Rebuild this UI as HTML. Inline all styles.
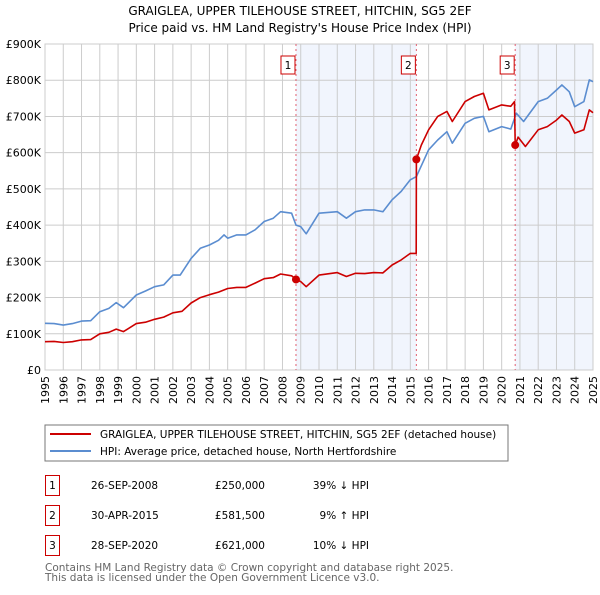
<!DOCTYPE html>
<html><head><meta charset="utf-8"><style>
body{margin:0;background:#fff;font-family:"Liberation Sans","DejaVu Sans",sans-serif;}
svg text{font-family:"DejaVu Sans","Liberation Sans",sans-serif;}
</style></head><body>
<svg id="c" width="600" height="590" xmlns="http://www.w3.org/2000/svg">
<text x="300" y="15" text-anchor="middle" font-size="12">GRAIGLEA, UPPER TILEHOUSE STREET, HITCHIN, SG5 2EF</text>
<text x="300" y="32" text-anchor="middle" font-size="12">Price paid vs. HM Land Registry's House Price Index (HPI)</text>
<g id="plot"></g>
<rect x="45" y="425" width="463" height="36" fill="#fff" stroke="#777"/>
<line x1="50" y1="434" x2="91" y2="434" stroke="#cc0000" stroke-width="2"/>
<text x="100" y="438" font-size="10.5">GRAIGLEA, UPPER TILEHOUSE STREET, HITCHIN, SG5 2EF (detached house)</text>
<line x1="50" y1="451" x2="91" y2="451" stroke="#5b8dd0" stroke-width="2"/>
<text x="100" y="455" font-size="10.5">HPI: Average price, detached house, North Hertfordshire</text>
<g font-size="10.5">
<rect x="45.5" y="475.5" width="14" height="20" fill="#fff" stroke="#cc0000"/><text x="52.5" y="489" text-anchor="middle">1</text>
<text x="91" y="489">26-SEP-2008</text><text x="265" y="489" text-anchor="end">£250,000</text><text x="369" y="489" text-anchor="end">39% ↓ HPI</text>
<rect x="45.5" y="505.5" width="14" height="20" fill="#fff" stroke="#cc0000"/><text x="52.5" y="519" text-anchor="middle">2</text>
<text x="91" y="519">30-APR-2015</text><text x="265" y="519" text-anchor="end">£581,500</text><text x="369" y="519" text-anchor="end">9% ↑ HPI</text>
<rect x="45.5" y="535.5" width="14" height="20" fill="#fff" stroke="#cc0000"/><text x="52.5" y="549" text-anchor="middle">3</text>
<text x="91" y="549">28-SEP-2020</text><text x="265" y="549" text-anchor="end">£621,000</text><text x="369" y="549" text-anchor="end">10% ↓ HPI</text>
</g>
<text x="45" y="571" font-size="10.5" fill="#666">Contains HM Land Registry data © Crown copyright and database right 2025.</text>
<text x="45" y="581" font-size="10.5" fill="#666">This data is licensed under the Open Government Licence v3.0.</text>
</svg>
<script>
const yearTicks=[1995,1996,1997,1998,1999,2000,2001,2002,2003,2004,2005,2006,2007,2008,2009,2010,2011,2012,2013,2014,2015,2016,2017,2018,2019,2020,2021,2022,2023,2024,2025];
const priceTicks=[0,100,200,300,400,500,600,700,800,900];
const priceLabels=["£0","£100K","£200K","£300K","£400K","£500K","£600K","£700K","£800K","£900K"];
const hpiYears=[1995,1995.5,1996,1996.5,1997,1997.5,1998,1998.5,1998.9,1999.3,2000,2000.5,2001,2001.5,2002,2002.4,2003,2003.5,2004,2004.5,2004.8,2005,2005.5,2006,2006.5,2007,2007.5,2007.9,2008.5,2008.74,2009,2009.3,2010,2011,2011.5,2012,2012.5,2013,2013.5,2014,2014.5,2015,2015.33,2016,2016.5,2017,2017.3,2018,2018.5,2019,2019.3,2020,2020.5,2020.8,2021.2,2022,2022.5,2023,2023.3,2023.7,2024,2024.5,2024.8,2025];
const hpiValues=[129,128,124,128,135,136,161,170,186,172,207,218,230,235,262,262,308,336,345,358,373,364,373,373,387,410,419,437,433,400,396,376,433,437,419,437,442,442,437,470,493,525,534,608,635,658,626,681,695,700,658,672,665,709,686,741,750,773,787,768,727,741,801,796];
const priceYears=[1995,1995.5,1996,1996.5,1997,1997.5,1998,1998.5,1998.9,1999.3,2000,2000.5,2001,2001.5,2002,2002.5,2003,2003.5,2004,2004.5,2005,2005.5,2006,2006.5,2007,2007.5,2007.9,2008.5,2008.74,2009,2009.3,2010,2011,2011.5,2012,2012.5,2013,2013.5,2014,2014.5,2015,2015.32,2015.33,2015.6,2016,2016.5,2017,2017.3,2018,2018.5,2019,2019.3,2020,2020.5,2020.7,2020.74,2020.9,2021.3,2022,2022.5,2023,2023.3,2023.7,2024,2024.5,2024.8,2025];
const priceValues=[78,79,76,78,83,84,100,104,113,106,128,132,140,146,158,162,185,200,208,215,225,228,228,240,252,255,265,260,250,244,230,262,269,258,267,266,269,268,290,304,322,322,581.5,621,663,700,714,686,741,755,764,718,732,728,741,621,643,617,663,672,690,704,686,654,663,718,710];
const saleYears=[2008.74,2015.33,2020.74];
const saleValues=[250,581.5,621];
const saleLabels=["1","2","3"];

const NS="http://www.w3.org/2000/svg";
const L=45,R=593,T=44,B=370;
const x=y=>L+(y-1995)/30*(R-L);
const yv=v=>B-v/900*(B-T);
const g=document.getElementById('plot');
function mk(tag,attrs,parent){const e=document.createElementNS(NS,tag);for(const k in attrs)e.setAttribute(k,attrs[k]);(parent||g).appendChild(e);return e;}
let s1=mk('rect',{x:x(saleYears[0]),y:T,width:x(saleYears[1])-x(saleYears[0]),height:B-T,fill:'#eef3fc',opacity:0.8});


let s3=mk('rect',{x:x(saleYears[2]),y:T,width:R-x(saleYears[2]),height:B-T,fill:'#eef3fc',opacity:0.8});


yearTicks.forEach(yr=>{
 let l=mk('line',{x1:x(yr),x2:x(yr),y1:T,y2:B,stroke:'#ccc','stroke-width':1});
 
 
 let t=mk('text',{x:0,y:0,'font-size':11,'text-anchor':'end',transform:`translate(${x(yr)+4},${B+6}) rotate(-90)`});
 t.textContent=yr;
 
 
});
priceTicks.forEach((p,i)=>{
 let l=mk('line',{x1:L,x2:R,y1:yv(p),y2:yv(p),stroke:'#ccc','stroke-width':1});
 
 
 let t=mk('text',{x:L-4,y:yv(p)+4,'font-size':11,'text-anchor':'end'});
 t.textContent=priceLabels[i];
 
 
});
let fr=mk('rect',{x:L,y:T,width:R-L,height:B-T,fill:'none',stroke:'#ccc'});


saleYears.forEach((sy,i)=>{
 let l=mk('line',{x1:x(sy),x2:x(sy),y1:T,y2:B,stroke:'#e06070','stroke-width':1,'stroke-dasharray':'2,3'});
 
 
 let b=mk('rect',{x:x(sy)-15,y:56,width:14,height:18,fill:'#fff',stroke:'#cc0000'});
 
 
 let t=mk('text',{x:x(sy)-8,y:69,'font-size':10.5,'text-anchor':'middle'});
 t.textContent=saleLabels[i];
 
 
});
function line(xs,vs,col,name){
 let d=xs.map((v,i)=>(i?'L':'M')+x(v).toFixed(1)+','+yv(vs[i]).toFixed(1)).join('');
 let p=mk('path',{d:d,fill:'none',stroke:col,'stroke-width':1.6,'stroke-linejoin':'round'});
 
 
}
line(hpiYears,hpiValues,'#5b8dd0','hpi-line');
line(priceYears,priceValues,'#cc0000','price-paid-line');
saleYears.forEach((sy,i)=>{
 let c=mk('circle',{cx:x(sy),cy:yv(saleValues[i]),r:4,fill:'#cc0000'});
 
 
});
</script>
</body></html>
